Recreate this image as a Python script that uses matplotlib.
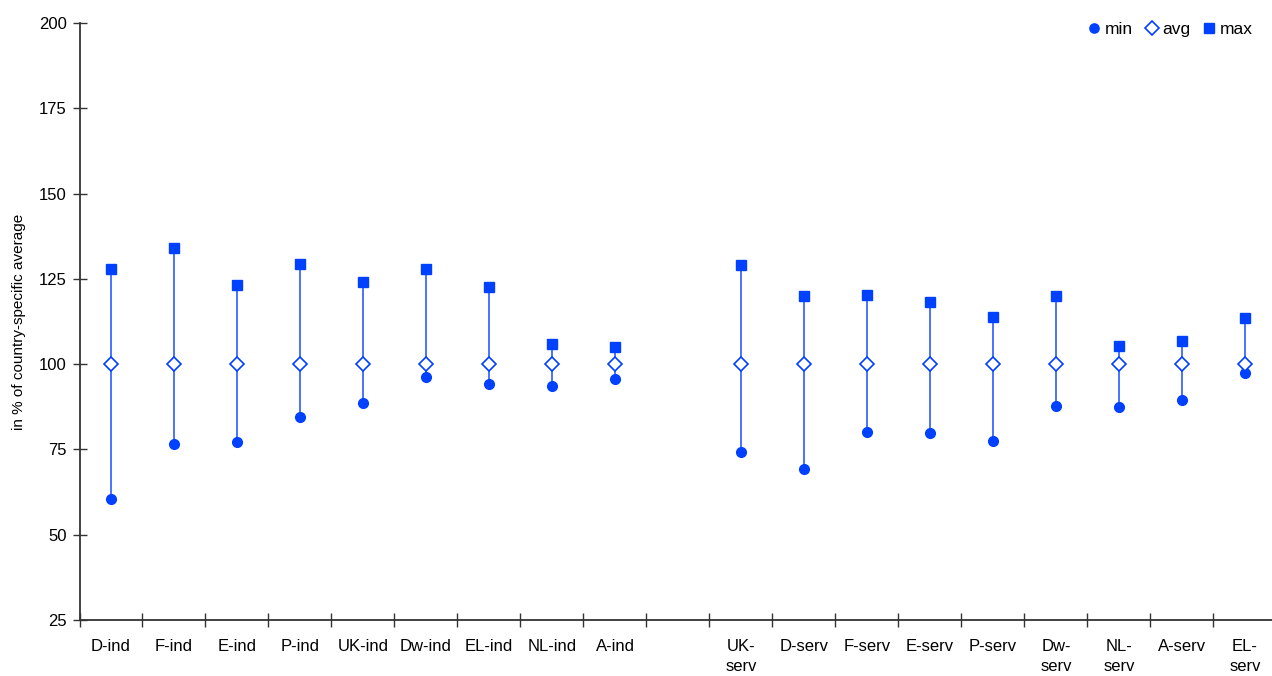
import matplotlib.pyplot as plt
import numpy as np

plt.rcParams['font.family'] = ['Liberation Sans', 'DejaVu Sans']

# --- Data ---
categories = ['D-ind', 'F-ind', 'E-ind', 'P-ind', 'UK-ind', 'Dw-ind', 'EL-ind', 'NL-ind', 'A-ind',
              '',
              'UK-\nserv', 'D-serv', 'F-serv', 'E-serv', 'P-serv', 'Dw-\nserv', 'NL-\nserv', 'A-serv', 'EL-\nserv']
min_vals = [60.4, 76.5, 77.1, 84.5, 88.5, 96.3, 94.1, 93.5, 95.7,
            np.nan,
            74.2, 69.4, 80.1, 79.8, 77.6, 87.7, 87.4, 89.4, 97.4]
avg_vals = [100, 100, 100, 100, 100, 100, 100, 100, 100,
            np.nan,
            100, 100, 100, 100, 100, 100, 100, 100, 100]
max_vals = [127.8, 134.0, 123.3, 129.3, 124.0, 127.8, 122.5, 106.0, 104.9,
            np.nan,
            129.1, 120.0, 120.4, 118.2, 113.9, 120.0, 105.3, 106.9, 113.4]

blue = '#0040ff'
x = np.arange(len(categories))

fig = plt.figure(figsize=(12.72, 6.76), dpi=100)
ax = fig.add_axes([0.0625, 0.0828, 0.941, 0.8832])

# range lines
ax.vlines(x, min_vals, max_vals, color='#2a5cff', linewidth=1.2, zorder=1)

ax.plot(x, min_vals, 'o', color=blue, markersize=7, linestyle='none', label='min', zorder=3)
ax.plot(x, avg_vals, 'D', markerfacecolor='white', markeredgecolor=blue, markeredgewidth=1.2,
        markersize=7.5, linestyle='none', label='avg', zorder=3)
ax.plot(x, max_vals, 's', color=blue, markersize=7.5, linestyle='none', label='max', zorder=3)

# --- Axes styling ---
ax.set_xlim(-0.5, len(categories) - 0.5)
ax.set_ylim(25, 200)
ax.set_yticks(np.arange(25, 201, 25))
ax.set_xticks(x)
ax.set_xticklabels(categories, fontsize=12, va='top', linespacing=1.35)
ax.set_xticks(np.arange(-0.5, len(categories) - 0.5, 1), minor=True)
ax.tick_params(axis='x', which='major', length=0, pad=14)
ax.tick_params(axis='x', which='minor', direction='inout', length=10, width=1, color='#333333')
ax.tick_params(axis='y', direction='inout', length=10, width=1, color='#333333', labelsize=12, pad=4)
for side in ['top', 'right']:
    ax.spines[side].set_visible(False)
for side in ['left', 'bottom']:
    ax.spines[side].set_color('#333333')
    ax.spines[side].set_linewidth(1.3)

ax.set_ylabel('in % of country-specific average', fontsize=11)
ax.yaxis.set_label_coords(-0.045, 0.5)

ax.legend(loc='upper right', ncol=3, frameon=False, fontsize=12.5, handletextpad=0.0,
          handlelength=1.2, columnspacing=0.5, bbox_to_anchor=(0.986, 1.013),
          borderaxespad=0.0, markerscale=0.95)

fig.savefig('out.png', dpi=100)
